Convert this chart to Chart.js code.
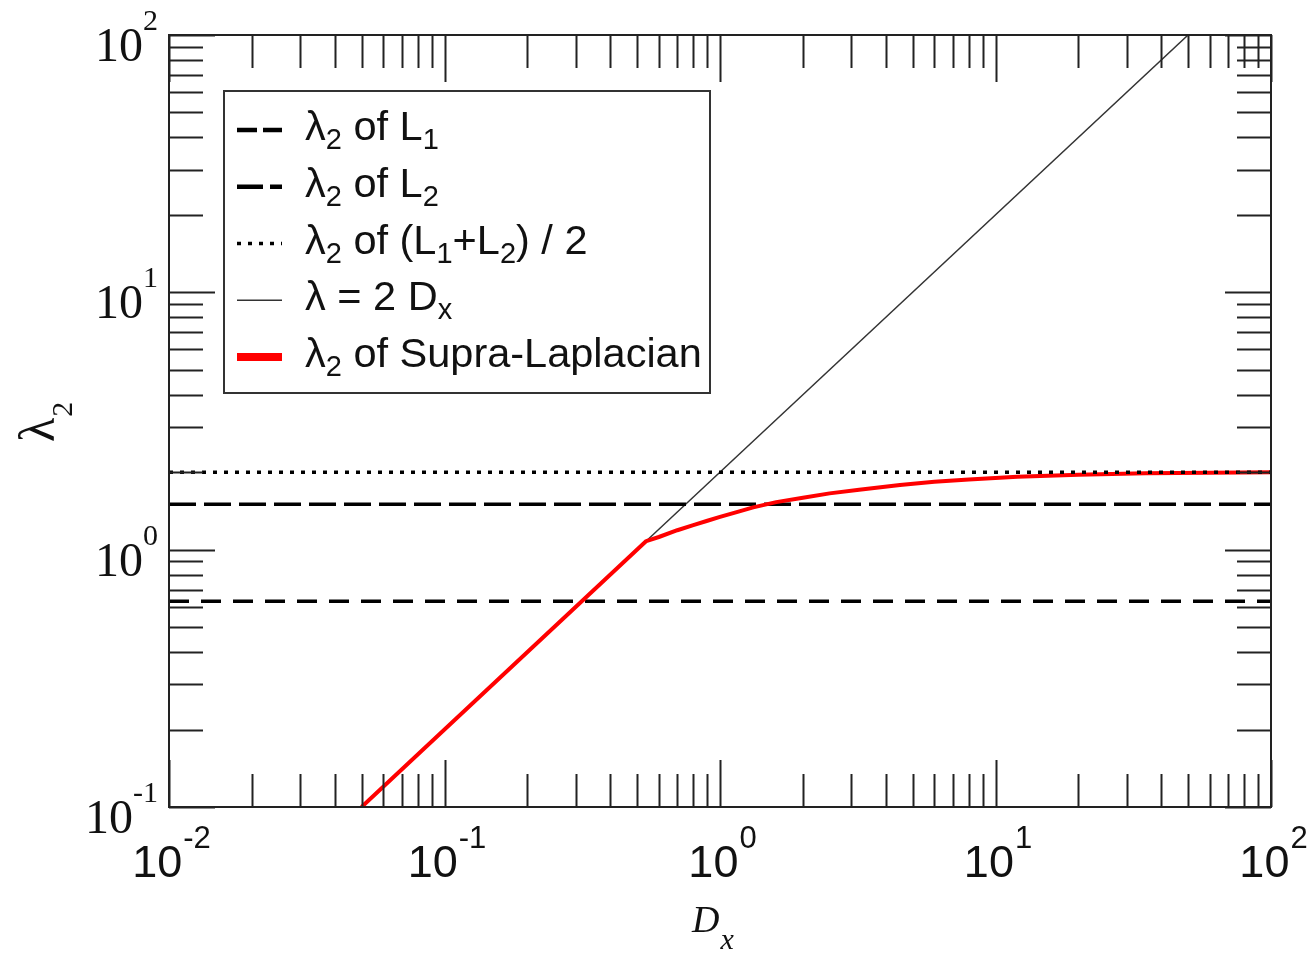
<!DOCTYPE html>
<html><head><meta charset="utf-8">
<script src="https://cdn.jsdelivr.net/npm/chart.js@4.4.1/dist/chart.umd.min.js"></script>
<style>html,body{margin:0;padding:0;background:#fff;} #c{display:block;}</style>
</head><body>
<canvas id="c" width="1310" height="953"></canvas>
<script>
// ---- data ----
const xRange = [0.01, 100];
const yRange = [0.1, 100];
const xTickExps = [-2, -1, 0, 1, 2];
const yTickExps = [-1, 0, 1, 2];

const dxSupra  = [0.05, 0.54, 0.6, 0.7, 0.8, 0.9, 1.0, 1.15, 1.32, 1.6, 2.0, 2.5, 3.2, 4.5, 6, 8, 12, 20, 35, 60, 100];
const lamSupra = [0.10, 1.08, 1.12, 1.19, 1.245, 1.295, 1.34, 1.40, 1.46, 1.53, 1.59, 1.655, 1.71, 1.785, 1.835, 1.875, 1.92, 1.955, 1.98, 1.992, 2.0];

const dxLinear  = [0.54, 50];
const lamLinear = [1.08, 100];

const lamL1  = 0.63;
const lamL2  = 1.5;
const lamAvg = 2.0;

const toPts = (xs, ys) => xs.map((x, i) => ({x: x, y: ys[i]}));
const flat = v => [{x: xRange[0], y: v}, {x: xRange[1], y: v}];

const styles = {
  avg:   {color: '#000', width: 3.5, dash: [4, 7]},
  supra: {color: '#f00', width: 4, dash: []},
  L2:    {color: '#000', width: 3.5, dash: [27, 8]},
  L1:    {color: '#000', width: 3.5, dash: [20, 12]},
  lin:   {color: '#333', width: 1.5, dash: []}
};

const mk = (data, s) => ({
  data: data, showLine: true, pointRadius: 0, borderColor: s.color,
  borderWidth: s.width, borderDash: s.dash, borderCapStyle: 'butt', borderJoinStyle: 'round', tension: 0, fill: false
});

const legendRows = [
  {key: 'L1',    sampleDash: [20, 6],  w: 4.5, segs: [['λ'], ['2', 1], [' of L'], ['1', 1]]},
  {key: 'L2',    sampleDash: [26, 7],  w: 4.5, segs: [['λ'], ['2', 1], [' of L'], ['2', 1]]},
  {key: 'avg',   sampleDash: [4, 7],   w: 3.5, segs: [['λ'], ['2', 1], [' of (L'], ['1', 1], ['+L'], ['2', 1], [') / 2']]},
  {key: 'lin',   sampleDash: [],       w: 1.5, segs: [['λ = 2 D'], ['x', 1]]},
  {key: 'supra', sampleDash: [],       w: 8,   segs: [['λ'], ['2', 1], [' of Supra-Laplacian']]}
];

function drawRich(ctx, segs, x, y, font, subFont, subDy) {
  let cx = x;
  segs.forEach(s => {
    const sub = s[1];
    ctx.font = sub ? subFont : font;
    ctx.fillText(s[0], cx, sub ? y + subDy : y);
    cx += ctx.measureText(s[0]).width;
  });
  return cx;
}

const decor = {
  id: 'decor',
  afterDraw(chart) {
    const ctx = chart.ctx, xs = chart.scales.x, ys = chart.scales.y, a = chart.chartArea;
    ctx.save();
    ctx.strokeStyle = '#222';
    ctx.lineWidth = 2;
    ctx.setLineDash([]);
    // ticks (inside, all four sides)
    ctx.beginPath();
    for (let e = -2; e <= 2; e++) {
      for (let m = 1; m <= 9; m++) {
        const v = m * Math.pow(10, e);
        if (v < xRange[0] - 1e-12 || v > xRange[1] + 1e-9) continue;
        const px = Math.round(xs.getPixelForValue(v)) + 0.5;
        const len = m === 1 ? 47 : 33;
        ctx.moveTo(px, a.bottom); ctx.lineTo(px, a.bottom - len);
        ctx.moveTo(px, a.top); ctx.lineTo(px, a.top + len);
      }
    }
    for (let e = -1; e <= 2; e++) {
      for (let m = 1; m <= 9; m++) {
        const v = m * Math.pow(10, e);
        if (v < yRange[0] - 1e-12 || v > yRange[1] + 1e-9) continue;
        const py = Math.round(ys.getPixelForValue(v)) + 0.5;
        const len = m === 1 ? 46 : 34;
        ctx.moveTo(a.left, py); ctx.lineTo(a.left + len, py);
        ctx.moveTo(a.right, py); ctx.lineTo(a.right - len, py);
      }
    }
    ctx.stroke();
    // frame
    ctx.strokeRect(a.left, a.top, a.right - a.left, a.bottom - a.top);

    ctx.fillStyle = '#111';
    ctx.textBaseline = 'alphabetic';
    ctx.textAlign = 'left';
    // y tick labels (serif)
    yTickExps.forEach(e => {
      const py = ys.getPixelForValue(Math.pow(10, e));
      const bf = '48px "Liberation Serif", serif', sf = '30px "Liberation Serif", serif';
      ctx.font = bf; const wb = ctx.measureText('10').width;
      ctx.font = sf; const we = ctx.measureText(String(e)).width;
      const x0 = 158 - wb - we;
      ctx.font = bf; ctx.fillText('10', x0, py + 26);
      ctx.font = sf; ctx.fillText(String(e), x0 + wb, py - 5);
    });
    // x tick labels (sans)
    xTickExps.forEach(e => {
      const px = xs.getPixelForValue(Math.pow(10, e));
      const bf = '45px "Liberation Sans", Arial, sans-serif', sf = '31px "Liberation Sans", Arial, sans-serif';
      ctx.font = bf; const wb = ctx.measureText('10').width;
      ctx.font = sf; const we = ctx.measureText(String(e)).width;
      const x0 = px - (wb + we) / 2 + 2;
      ctx.font = bf; ctx.fillText('10', x0, a.bottom + 70);
      ctx.font = sf; ctx.fillText(String(e), x0 + wb + 1, a.bottom + 41);
    });
    // x axis title D_x
    ctx.font = 'italic 38px "Liberation Serif", serif';
    ctx.fillText('D', 692, 932);
    const wD = ctx.measureText('D').width;
    ctx.font = 'italic 30px "Liberation Serif", serif';
    ctx.fillText('x', 692 + wD + 1, 949);
    // y axis title lambda_2 (rotated)
    ctx.save();
    ctx.translate(54, 442);
    ctx.rotate(-Math.PI / 2);
    ctx.font = '50px "Liberation Serif", serif';
    ctx.fillText('λ', 0, 0);
    const wl = ctx.measureText('λ').width;
    ctx.font = '30px "Liberation Serif", serif';
    ctx.fillText('2', wl + 1, 18);
    ctx.restore();

    // legend
    const L = {x: 224, y: 91, w: 486, h: 302};
    ctx.fillStyle = '#fff';
    ctx.fillRect(L.x, L.y, L.w, L.h);
    ctx.strokeStyle = '#333';
    ctx.lineWidth = 2;
    ctx.strokeRect(L.x, L.y, L.w, L.h);
    const base0 = 140, step = 56.75;
    legendRows.forEach((r, i) => {
      const s = styles[r.key];
      const by = base0 + i * step;
      const sy = by - 10;
      ctx.save();
      ctx.strokeStyle = s.color;
      ctx.lineWidth = r.w;
      ctx.lineCap = 'butt';
      ctx.setLineDash(r.sampleDash);
      ctx.beginPath(); ctx.moveTo(237, sy); ctx.lineTo(282, sy); ctx.stroke();
      ctx.restore();
      ctx.fillStyle = '#111';
      drawRich(ctx, r.segs, 305, by, '41.5px "Liberation Sans", Arial, sans-serif',
               '29px "Liberation Sans", Arial, sans-serif', 9);
    });
    ctx.restore();
  }
};

new Chart(document.getElementById('c'), {
  type: 'scatter',
  data: {
    datasets: [
      mk(flat(lamAvg), styles.avg),
      mk(toPts(dxSupra, lamSupra), styles.supra),
      mk(flat(lamL2), styles.L2),
      mk(flat(lamL1), styles.L1),
      mk(toPts(dxLinear, lamLinear), styles.lin)
    ]
  },
  options: {
    responsive: false,
    animation: false,
    devicePixelRatio: 1,
    layout: {padding: {left: 169, top: 35, right: 39, bottom: 146}},
    plugins: {legend: {display: false}, tooltip: {enabled: false}},
    scales: {
      x: {type: 'logarithmic', min: xRange[0], max: xRange[1], display: false},
      y: {type: 'logarithmic', min: yRange[0], max: yRange[1], display: false}
    }
  },
  plugins: [decor]
});
</script></body></html>
